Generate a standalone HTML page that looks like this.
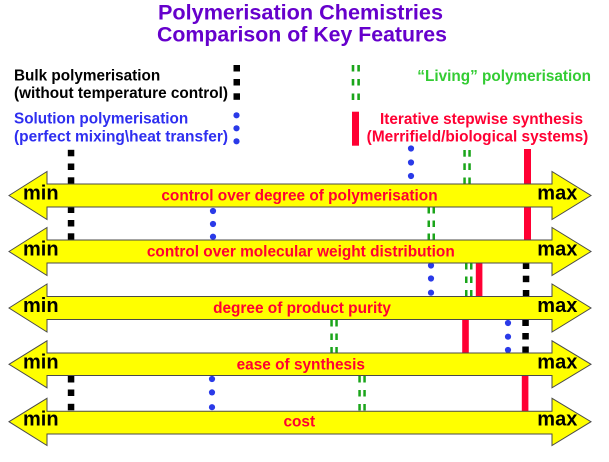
<!DOCTYPE html>
<html><head><meta charset="utf-8"><style>
html,body{margin:0;padding:0;background:#fff;}
svg{display:block;}
text{font-family:"Liberation Sans",Arial,sans-serif;font-weight:bold;}
</style></head><body>
<svg width="609" height="462" viewBox="0 0 609 462" xmlns="http://www.w3.org/2000/svg">
<rect width="609" height="462" fill="#fff"/>
<!-- Title -->
<text x="300.5" y="19.3" font-size="21.4" fill="#6600cc" text-anchor="middle" textLength="285" lengthAdjust="spacingAndGlyphs">Polymerisation Chemistries</text>
<text x="302" y="41.7" font-size="21.4" fill="#6600cc" text-anchor="middle" textLength="290" lengthAdjust="spacingAndGlyphs">Comparison of Key Features</text>

<!-- Legend texts -->
<text x="14" y="80.7" font-size="15.3" fill="#000">Bulk polymerisation</text>
<text x="14" y="98" font-size="15.3" fill="#000" textLength="214" lengthAdjust="spacingAndGlyphs">(without temperature control)</text>
<text x="14" y="123.3" font-size="15.3" fill="#2e2ef0">Solution polymerisation</text>
<text x="14" y="141.3" font-size="15.3" fill="#2e2ef0" textLength="214" lengthAdjust="spacingAndGlyphs">(perfect mixing\heat transfer)</text>
<text x="417.3" y="81" font-size="15.3" fill="#33cc33" textLength="173.7" lengthAdjust="spacingAndGlyphs">“Living” polymerisation</text>
<text x="380" y="124" font-size="15.3" fill="#ff0033" textLength="203" lengthAdjust="spacingAndGlyphs">Iterative stepwise synthesis</text>
<text x="366.7" y="141.6" font-size="15.3" fill="#ff0033" textLength="221.6" lengthAdjust="spacingAndGlyphs">(Merrifield/biological systems)</text>

<!-- Legend markers -->
<g fill="#000">
<rect x="233.5" y="65" width="6.5" height="6.5"/>
<rect x="233.5" y="79" width="6.5" height="6.5"/>
<rect x="233.5" y="93.3" width="6.5" height="6.5"/>
</g>
<g fill="#2a3ae8">
<circle cx="236.5" cy="115.3" r="3.1"/>
<circle cx="236.5" cy="128.3" r="3.1"/>
<circle cx="236.5" cy="141.3" r="3.1"/>
</g>
<g fill="#1aa51a">
<rect x="351.7" y="65" width="2.6" height="6.5"/><rect x="357.3" y="65" width="2.6" height="6.5"/>
<rect x="351.7" y="79" width="2.6" height="6.5"/><rect x="357.3" y="79" width="2.6" height="6.5"/>
<rect x="351.7" y="93.5" width="2.6" height="6.5"/><rect x="357.3" y="93.5" width="2.6" height="6.5"/>
</g>
<rect x="352" y="111.7" width="7" height="34" fill="#ff0033"/>

<!-- G1: above arrow 1 (150-184) -->
<g fill="#000">
<rect x="67.8" y="149.8" width="6.5" height="6.5"/>
<rect x="67.8" y="163.5" width="6.5" height="6.5"/>
<rect x="67.8" y="177.3" width="6.5" height="6.7"/>
</g>
<g fill="#2a3ae8">
<circle cx="411" cy="148.5" r="3.1"/>
<circle cx="411" cy="162.5" r="3.1"/>
<circle cx="411" cy="176" r="3.1"/>
</g>
<g fill="#1aa51a">
<rect x="463.3" y="150" width="2.5" height="6.7"/><rect x="468.3" y="150" width="2.5" height="6.7"/>
<rect x="463.3" y="163.3" width="2.5" height="6.7"/><rect x="468.3" y="163.3" width="2.5" height="6.7"/>
<rect x="463.3" y="177.5" width="2.5" height="6.7"/><rect x="468.3" y="177.5" width="2.5" height="6.7"/>
</g>
<rect x="524" y="149" width="7" height="36" fill="#ff0033"/>

<!-- G2: between arrow 1 and 2 (207-240) -->
<g fill="#000">
<rect x="67.8" y="206.5" width="6.5" height="6.5"/>
<rect x="67.8" y="220" width="6.5" height="6.5"/>
<rect x="67.8" y="233.3" width="6.5" height="6.5"/>
</g>
<g fill="#2a3ae8">
<circle cx="213" cy="211" r="3.1"/>
<circle cx="213" cy="224" r="3.1"/>
<circle cx="213" cy="236.7" r="3.1"/>
</g>
<g fill="#1aa51a">
<rect x="427.5" y="207" width="2.5" height="6.5"/><rect x="432.5" y="207" width="2.5" height="6.5"/>
<rect x="427.5" y="220.5" width="2.5" height="6.5"/><rect x="432.5" y="220.5" width="2.5" height="6.5"/>
<rect x="427.5" y="233.5" width="2.5" height="6.5"/><rect x="432.5" y="233.5" width="2.5" height="6.5"/>
</g>
<rect x="524" y="206" width="7" height="34" fill="#ff0033"/>

<!-- G3: between arrow 2 and 3 (263-296.5) -->
<g fill="#2a3ae8">
<circle cx="431" cy="265.5" r="3.1"/>
<circle cx="431" cy="278.5" r="3.1"/>
<circle cx="431" cy="292.7" r="3.1"/>
</g>
<g fill="#1aa51a">
<rect x="465" y="263" width="2.5" height="6.5"/><rect x="470" y="263" width="2.5" height="6.5"/>
<rect x="465" y="276.5" width="2.5" height="6.5"/><rect x="470" y="276.5" width="2.5" height="6.5"/>
<rect x="465" y="290" width="2.5" height="6.5"/><rect x="470" y="290" width="2.5" height="6.5"/>
</g>
<rect x="475.8" y="262.5" width="6.6" height="34.5" fill="#ff0033"/>
<g fill="#000">
<rect x="522.8" y="262.5" width="6.5" height="6.5"/>
<rect x="522.8" y="275.7" width="6.5" height="6.5"/>
<rect x="522.8" y="290" width="6.5" height="6.5"/>
</g>

<!-- G4: between arrow 3 and 4 (319.5-353) -->
<g fill="#1aa51a">
<rect x="330.3" y="320" width="2.5" height="6.5"/><rect x="335.3" y="320" width="2.5" height="6.5"/>
<rect x="330.3" y="333.5" width="2.5" height="6.5"/><rect x="335.3" y="333.5" width="2.5" height="6.5"/>
<rect x="330.3" y="347" width="2.5" height="6.5"/><rect x="335.3" y="347" width="2.5" height="6.5"/>
</g>
<rect x="462.2" y="319" width="6.6" height="34.5" fill="#ff0033"/>
<g fill="#2a3ae8">
<circle cx="508" cy="323" r="3.1"/>
<circle cx="508" cy="336.7" r="3.1"/>
<circle cx="508" cy="350" r="3.1"/>
</g>
<g fill="#000">
<rect x="522.3" y="319.5" width="6.5" height="6.5"/>
<rect x="522.3" y="333" width="6.5" height="6.5"/>
<rect x="522.3" y="346.5" width="6.5" height="6.5"/>
</g>

<!-- G5: between arrow 4 and 5 (375-411.5) -->
<g fill="#000">
<rect x="67.8" y="376" width="6.5" height="6.5"/>
<rect x="67.8" y="389.5" width="6.5" height="6.5"/>
<rect x="67.8" y="403.8" width="6.5" height="6.5"/>
</g>
<g fill="#2a3ae8">
<circle cx="212" cy="379" r="3.1"/>
<circle cx="212" cy="392.4" r="3.1"/>
<circle cx="212" cy="407.2" r="3.1"/>
</g>
<g fill="#1aa51a">
<rect x="358.3" y="376" width="2.5" height="6.5"/><rect x="363.3" y="376" width="2.5" height="6.5"/>
<rect x="358.3" y="390" width="2.5" height="6.5"/><rect x="363.3" y="390" width="2.5" height="6.5"/>
<rect x="358.3" y="404" width="2.5" height="6.5"/><rect x="363.3" y="404" width="2.5" height="6.5"/>
</g>
<rect x="521.8" y="374.5" width="6.6" height="37.5" fill="#ff0033"/>

<!-- Arrows -->
<g fill="#ffff00" stroke="#4a4a4a" stroke-width="1" stroke-linejoin="miter">
<path d="M9,195.5 L47,171.5 L47,184 L552,184 L552,171.5 L591,195.5 L552,219.5 L552,207 L47,207 L47,219.5 Z"/>
<path d="M9,251.5 L47,227.5 L47,240 L552,240 L552,227.5 L591,251.5 L552,275.5 L552,263 L47,263 L47,275.5 Z"/>
<path d="M9,308 L47,284 L47,296.5 L552,296.5 L552,284 L591,308 L552,332 L552,319.5 L47,319.5 L47,332 Z"/>
<path d="M9,364.3 L47,340.8 L47,353 L552,353 L552,340.8 L591,364.3 L552,387.8 L552,375.5 L47,375.5 L47,387.8 Z"/>
<path d="M9,421.7 L47,398.3 L47,411.2 L552,411.2 L552,398.3 L591,421.7 L552,445.5 L552,434 L47,434 L47,445.5 Z"/>
</g>

<!-- min / max -->
<g font-size="20" fill="#000">
<text x="23" y="199.5">min</text><text x="537.3" y="199.5">max</text>
<text x="23" y="255.5">min</text><text x="537.3" y="255.5">max</text>
<text x="23" y="312">min</text><text x="537.3" y="312">max</text>
<text x="23" y="368.3">min</text><text x="537.3" y="368.3">max</text>
<text x="23" y="425.7">min</text><text x="537.3" y="425.7">max</text>
</g>

<!-- axis labels -->
<g font-size="15.4" fill="#ff0033" text-anchor="middle">
<text x="299.5" y="200.5">control over degree of polymerisation</text>
<text x="300.8" y="256.5">control over molecular weight distribution</text>
<text x="302" y="313">degree of product purity</text>
<text x="300.8" y="369.3">ease of synthesis</text>
<text x="299.3" y="426.7">cost</text>
</g>
</svg>
</body></html>
